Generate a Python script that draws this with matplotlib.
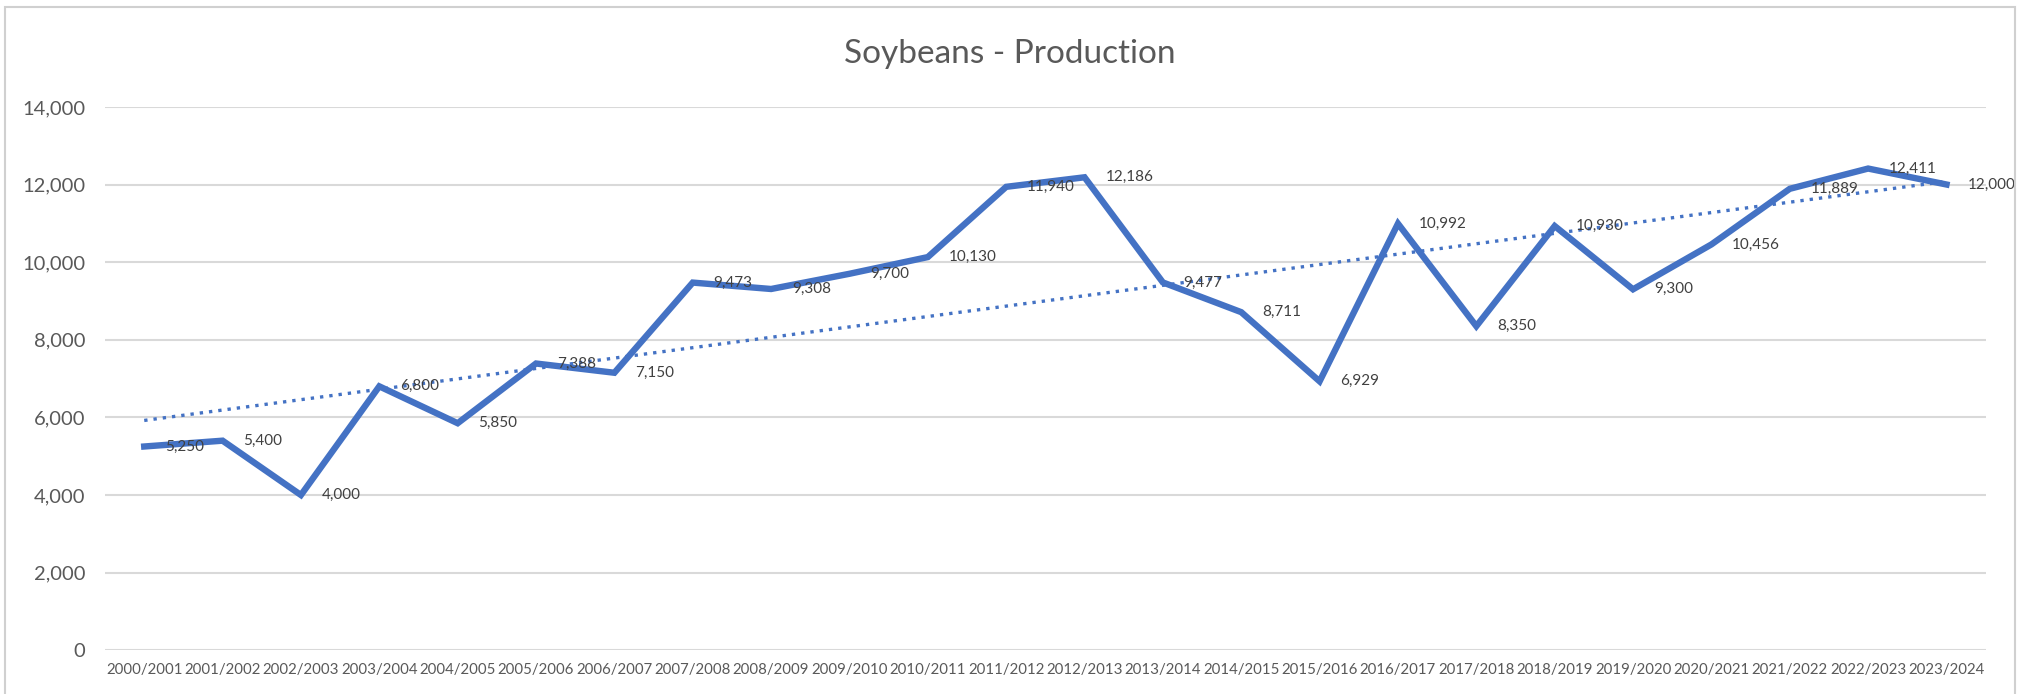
import matplotlib.pyplot as plt
import numpy as np
from matplotlib.ticker import FuncFormatter
from matplotlib.patches import Rectangle

plt.rcParams['font.family'] = ['Lato', 'DejaVu Sans']

seasons = ['2000/2001', '2001/2002', '2002/2003', '2003/2004', '2004/2005', '2005/2006',
           '2006/2007', '2007/2008', '2008/2009', '2009/2010', '2010/2011', '2011/2012',
           '2012/2013', '2013/2014', '2014/2015', '2015/2016', '2016/2017', '2017/2018',
           '2018/2019', '2019/2020', '2020/2021', '2021/2022', '2022/2023', '2023/2024']
production = [5250, 5400, 4000, 6800, 5850, 7388, 7150, 9473, 9308, 9700, 10130, 11940,
              12186, 9477, 8711, 6929, 10992, 8350, 10930, 9300, 10456, 11889, 12411, 12000]
yticks = [0, 2000, 4000, 6000, 8000, 10000, 12000, 14000]

blue = '#4472C4'
grey_text = '#595959'

fig = plt.figure(figsize=(20.2, 6.94), dpi=100)
ax = fig.add_axes([0.052, 0.063, 0.931, 0.783])

x = np.arange(len(seasons))
ax.plot(x, production, color=blue, lw=4.6, solid_joinstyle='miter', zorder=3)

# linear trendline
k, b = np.polyfit(x, production, 1)
ax.plot(x, k * x + b, color=blue, lw=2.4, linestyle=(0, (1, 1.8)),
        dash_capstyle='butt', zorder=2)

for xi, v in zip(x, production):
    ax.annotate(f'{v:,}', (xi, v), xytext=(15, 0), textcoords='offset points',
                ha='left', va='center', fontsize=11, color='#404040', zorder=4)

ax.set_xlim(-0.5, len(seasons) - 0.5)
ax.set_ylim(0, 14000)
ax.set_yticks(yticks)
ax.yaxis.set_major_formatter(FuncFormatter(lambda v, p: f'{int(v):,}'))
ax.set_xticks(x)
ax.set_xticklabels(seasons, fontsize=10.8, color=grey_text)
ax.tick_params(axis='y', labelsize=14.5, colors=grey_text, length=0, pad=14)
ax.tick_params(axis='x', length=0, pad=9)
ax.grid(axis='y', color='#D9D9D9', lw=1.5)
ax.set_axisbelow(True)
for s in ax.spines.values():
    s.set_visible(False)

fig.text(0.5, 0.922, 'Soybeans - Production', ha='center', va='center',
         fontsize=24, color=grey_text)

fig.patches.append(Rectangle((0.0025, -0.01), 0.995, 1.0, transform=fig.transFigure,
                             fill=False, edgecolor='#D0D0D0', lw=1.5))

fig.savefig('out.png', dpi=100)
